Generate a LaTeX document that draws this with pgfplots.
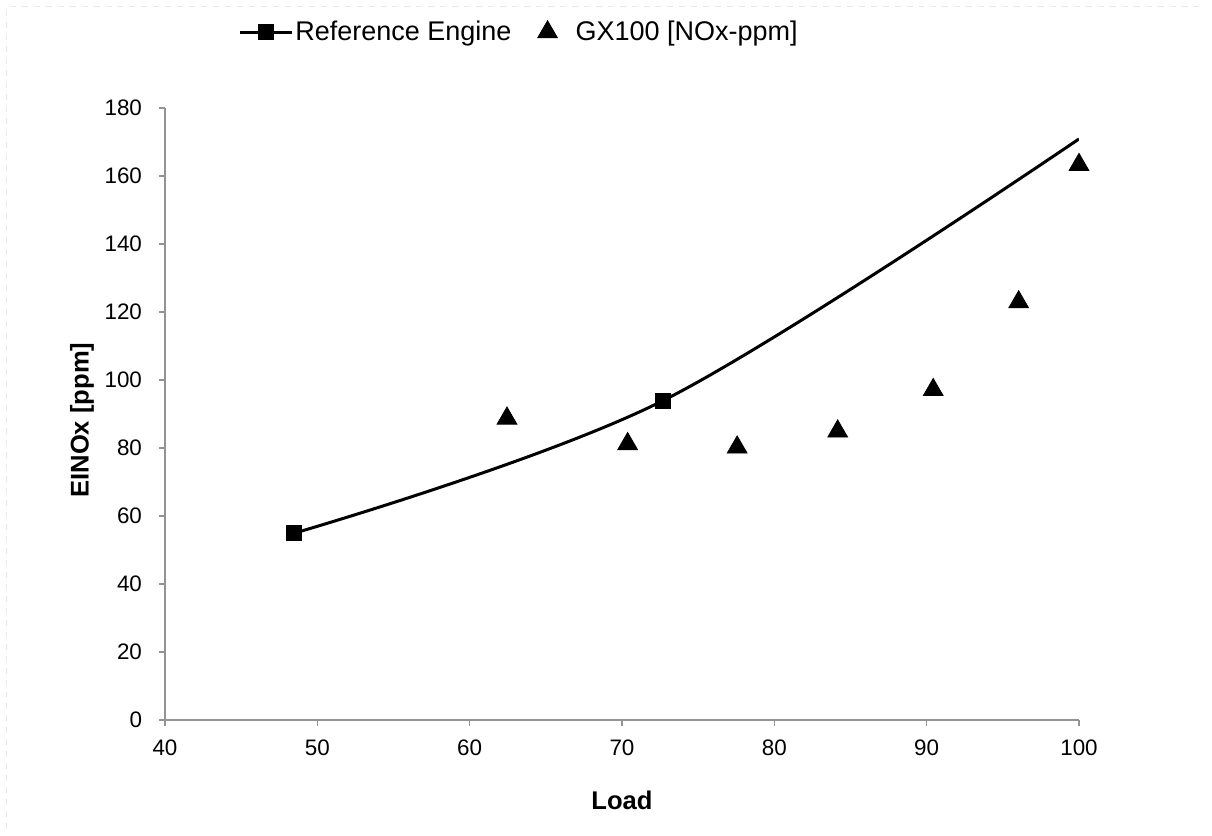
\documentclass[border=0pt]{standalone}
\usepackage{pgfplots}
\pgfplotsset{compat=1.18}
\usepackage{fontspec}
\setmainfont{Liberation Sans}

\begin{document}
\begin{tikzpicture}
% page = 1212 x 836 px at 0.5bp per px; axis box lower-left at (0,0)
\path[use as bounding box] (-82.5bp,-58bp) rectangle (523.5bp,360bp);
% faint chart-area border (top and left edges only show)
\draw[gray!18, dashed, line width=0.5bp] (-79bp,-54.5bp) -- (-79bp,356.5bp) -- (520bp,356.5bp);
\begin{axis}[
    at={(0,0)}, anchor=south west,
    scale only axis,
    width=457bp, height=306bp,
    xmin=40, xmax=100,
    ymin=0, ymax=180,
    xtick={40,50,...,100},
    ytick={0,20,...,180},
    axis lines*=left,
    axis line style={draw=gray!85, line width=0.7bp},
    tick style={draw=gray!85, line width=0.7bp},
    tick align=outside,
    major tick length=3bp,
    /pgf/number format/assume math mode=true,
    tick label style={font=\fontsize{11.2bp}{13bp}\selectfont},
    yticklabel style={xshift=-5bp},
    xticklabel style={yshift=-3.5bp},
    label style={font=\bfseries\fontsize{12.8bp}{15bp}\selectfont},
    xlabel={Load},
    ylabel={EINOx [ppm]},
    xlabel style={at={(axis description cs:0.5,-0.1307)}, anchor=center},
    ylabel style={at={(axis description cs:-0.0908,0.49)}, anchor=center},
    legend columns=2,
    legend style={
        at={(axis description cs:0.0799,1.124)}, anchor=west,
        draw=none, fill=none, inner sep=0pt,
        font=\fontsize{13.5bp}{15bp}\selectfont,
        nodes={inner sep=1bp},
        /tikz/every odd column/.append style={column sep=0bp},
        /tikz/every even column/.append style={column sep=4bp},
    },
]
\addplot[black, line width=1.5bp, smooth, tension=0.55,
    mark=square*, mark size=3.2bp, mark indices={1,2},
    legend image code/.code={
        \draw[black, line width=1.5bp] (0bp,0bp) -- (26bp,0bp);
        \fill[black] (9.8bp,-3.2bp) rectangle (16.2bp,3.2bp);
    }] coordinates {
    (48.45,54.9)
    (72.68,93.9)
    (100,170.9)
};
\addlegendentry{Reference Engine}

\addplot[only marks, mark=triangle*, mark size=5.7bp, black,
    legend image code/.code={
        \path[draw=none, fill=none] (0bp,0bp) rectangle (26bp,0.1bp);
        \fill[black] (13bp,5.7bp) -- (8.06bp,-2.85bp) -- (17.94bp,-2.85bp) -- cycle;
    }] coordinates {
    (62.45,88.7)
    (70.37,81.2)
    (77.56,80.2)
    (84.16,84.9)
    (90.43,97.1)
    (96.04,122.9)
    (100,163.3)
};
\addlegendentry{GX100 [NOx-ppm]}
\end{axis}
\end{tikzpicture}
\end{document}
